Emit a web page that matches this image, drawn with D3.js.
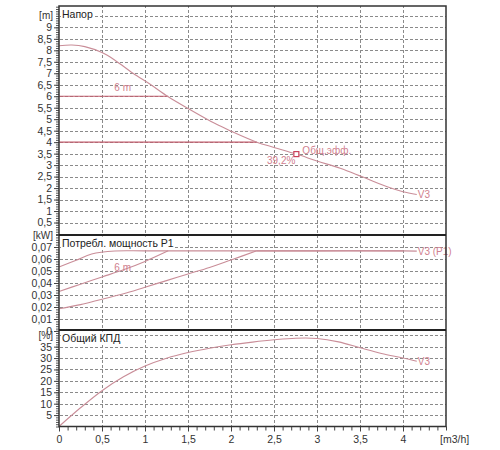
<!DOCTYPE html>
<html>
<head>
<meta charset="utf-8">
<script src="https://cdn.jsdelivr.net/npm/d3@7"></script>
<style>
  body { margin: 0; background: #fff; }
  svg { font-family: Arial, 'Liberation Sans', sans-serif; }
</style>
</head>
<body>
<svg id="chart" width="500" height="450"></svg>
<script>
// flow axis
const flowTicks = [0, 0.5, 1, 1.5, 2, 2.5, 3, 3.5, 4]

// head panel (V3 curve)
const headQ = [0, 0.15, 0.3, 0.5, 0.65, 0.86, 1.06, 1.27, 1.5, 1.81, 2.0, 2.3, 2.5, 2.76, 3.0, 3.27, 3.52, 3.85, 4.0, 4.16]
const headH = [8.2, 8.23, 8.16, 7.9, 7.57, 7.0, 6.52, 5.98, 5.47, 4.82, 4.48, 4.0, 3.77, 3.48, 3.18, 2.86, 2.5, 2.01, 1.84, 1.72]
const headTicks = [0.5, 1, 1.5, 2, 2.5, 3, 3.5, 4, 4.5, 5, 5.5, 6, 6.5, 7, 7.5, 8, 8.5, 9]
const constHead = [{ h: 6, q: 1.27, label: '6 m' }, { h: 4, q: 2.3, label: '' }]
const dutyPoint = { q: 2.76, h: 3.48, eff: '39,2%' }

// power panel
const powV3Q = [0, 0.2, 0.38, 0.65, 1.0, 2.0, 3.0, 4.0, 4.16]
const powV3 = [0.0534, 0.059, 0.0642, 0.0667, 0.0668, 0.0668, 0.0668, 0.0668, 0.0666]
const pow6Q = [0, 0.25, 0.5, 0.75, 1.0, 1.27]
const pow6 = [0.033, 0.039, 0.045, 0.051, 0.058, 0.0668]
const pow4Q = [0, 0.25, 0.5, 0.75, 1.0, 1.25, 1.5, 1.75, 2.0, 2.3]
const pow4 = [0.0185, 0.022, 0.0265, 0.031, 0.0365, 0.042, 0.0475, 0.053, 0.0592, 0.0668]
const powTicks = [0, 0.01, 0.02, 0.03, 0.04, 0.05, 0.06, 0.07]

// efficiency panel
const effQ = [0, 0.25, 0.5, 0.75, 1.0, 1.25, 1.5, 1.75, 2.0, 2.25, 2.5, 2.75, 3.0, 3.25, 3.5, 3.75, 4.0, 4.16]
const effV = [0, 8.2, 15.7, 21.8, 26.5, 29.9, 32.4, 34.3, 35.8, 37.0, 38.0, 38.7, 38.6, 37.1, 34.5, 32.0, 30.0, 28.6]
const effTicks = [5, 10, 15, 20, 25, 30, 35]

const curveColor = '#c98d98'
const lineColor = '#c25d6c'
const labelColor = '#d0808e'
const gridColor = '#8a8a8a'

function drawChart() {
  const svg = d3.select('#chart')
  const comma = f => v => d3.format(f)(v).replace('.', ',')

  const x = d3.scaleLinear().domain([0, 4.5]).range([59, 446])
  const yHead = d3.scaleLinear().domain([0, 9.93]).range([234, 6])
  const yPow = d3.scaleLinear().domain([0, 0.08]).range([331, 235])
  const yEff = d3.scaleLinear().domain([0, 42.3]).range([426.5, 330])

  const panels = [
    { y: yHead, ticks: headTicks, minor: d3.range(0, 9.95, 0.1), fmt: comma('~g'), unit: '[m]', unitAt: 9.5, title: 'Напор' },
    { y: yPow, ticks: powTicks, minor: d3.range(0, 0.0801, 0.002), fmt: comma('.2~f'), unit: '[kW]', unitAt: 0.08, title: 'Потребл. мощность P1' },
    { y: yEff, ticks: effTicks, minor: d3.range(0, 42.1, 1), fmt: comma('~g'), unit: '[%]', unitAt: 40, title: 'Общий КПД' }
  ]

  // dash patterns for the grid (3 on, 2 off)
  const defs = svg.append('defs')
  defs.append('pattern')
    .attr('id', 'dashH')
    .attr('patternUnits', 'userSpaceOnUse')
    .attr('width', 5).attr('height', 1)
    .append('rect')
    .attr('width', 3).attr('height', 1)
    .attr('fill', gridColor)
  defs.append('pattern')
    .attr('id', 'dashV')
    .attr('patternUnits', 'userSpaceOnUse')
    .attr('width', 1).attr('height', 5)
    .append('rect')
    .attr('width', 1).attr('height', 3)
    .attr('fill', gridColor)

  const grid = svg.append('g')
    .attr('id', 'grid')

  panels.forEach(p => {
    const [y0, y1] = p.y.range()
    const hv = p.ticks.concat([p.unitAt]).filter(v => v > 0)

    grid.append('g').selectAll('rect')
      .data(hv)
      .join('rect')
      .attr('x', x(0))
      .attr('y', d => Math.round(p.y(d)))
      .attr('width', x(4.5) - x(0))
      .attr('height', 1)
      .attr('fill', 'url(#dashH)')

    grid.append('g').selectAll('rect')
      .data(flowTicks.filter(v => v > 0))
      .join('rect')
      .attr('x', d => Math.round(x(d)))
      .attr('y', y1)
      .attr('width', 1)
      .attr('height', y0 - y1)
      .attr('fill', 'url(#dashV)')
  })

  const line = (xs, ys, y) => d3.line()
    .x((d, i) => x(xs[i]))
    .y(d => y(d))
    .curve(d3.curveCatmullRom.alpha(0.5))(ys)

  // head panel
  svg.selectAll('line.const')
    .data(constHead)
    .join('line')
    .attr('class', 'const')
    .attr('x1', x(0)).attr('x2', d => x(d.q))
    .attr('y1', d => yHead(d.h)).attr('y2', d => yHead(d.h))
    .attr('stroke', lineColor)
    .attr('stroke-width', 1.2)

  svg.append('path')
    .attr('d', line(headQ, headH, yHead))
    .attr('fill', 'none')
    .attr('stroke', curveColor)
    .attr('stroke-width', 1.1)

  svg.append('text')
    .attr('x', x(0.74)).attr('y', yHead(6) - 5)
    .attr('text-anchor', 'middle')
    .attr('fill', labelColor)
    .style('font-size', '10px')
    .text(constHead[0].label)

  svg.append('rect')
    .attr('x', x(dutyPoint.q) - 2.5).attr('y', yHead(dutyPoint.h) - 2.5)
    .attr('width', 5).attr('height', 5)
    .attr('fill', '#fff')
    .attr('stroke', '#c8405a')
    .attr('stroke-width', 1.2)

  svg.append('text')
    .attr('x', x(dutyPoint.q) + 6).attr('y', yHead(dutyPoint.h) - 4)
    .attr('dy', '0.35em')
    .attr('fill', labelColor)
    .style('font-size', '10px')
    .text('Общ.эфф.')

  svg.append('text')
    .attr('x', x(dutyPoint.q) - 1).attr('y', yHead(dutyPoint.h) + 6)
    .attr('dy', '0.35em')
    .attr('text-anchor', 'end')
    .attr('fill', labelColor)
    .style('font-size', '10px')
    .text(dutyPoint.eff)

  svg.append('text')
    .attr('x', x(headQ[headQ.length - 1]) + 1).attr('y', yHead(headH[headH.length - 1]))
    .attr('dy', '0.35em')
    .attr('fill', labelColor)
    .style('font-size', '10px')
    .text('V3')

  // power panel
  ;[[powV3Q, powV3], [pow6Q, pow6], [pow4Q, pow4]].forEach(([qs, ps]) => {
    svg.append('path')
      .attr('d', line(qs, ps, yPow))
      .attr('fill', 'none')
      .attr('stroke', curveColor)
      .attr('stroke-width', 1.1)
  })
  svg.append('line')
    .attr('x1', x(pow4Q[pow4Q.length - 1])).attr('x2', x(4.0))
    .attr('y1', yPow(0.0668)).attr('y2', yPow(0.0668))
    .attr('stroke', curveColor)
    .attr('stroke-width', 1.1)

  svg.append('text')
    .attr('x', x(0.74)).attr('y', yPow(0.053))
    .attr('dy', '0.35em')
    .attr('text-anchor', 'middle')
    .attr('fill', labelColor)
    .style('font-size', '10px')
    .text('6 m')

  svg.append('text')
    .attr('x', x(powV3Q[powV3Q.length - 1]) + 1).attr('y', yPow(0.0666))
    .attr('dy', '0.35em')
    .attr('fill', labelColor)
    .style('font-size', '10px')
    .text('V3 (P1)')

  // efficiency panel
  svg.append('path')
    .attr('d', line(effQ, effV, yEff))
    .attr('fill', 'none')
    .attr('stroke', curveColor)
    .attr('stroke-width', 1.1)

  svg.append('text')
    .attr('x', x(effQ[effQ.length - 1]) + 1).attr('y', yEff(effV[effV.length - 1]))
    .attr('dy', '0.35em')
    .attr('fill', labelColor)
    .style('font-size', '10px')
    .text('V3')

  // left axes, unit labels and panel titles
  panels.forEach(p => {
    const y1 = p.y.range()[1]

    svg.append('g')
      .attr('transform', `translate(${x(0)},0)`)
      .call(d3.axisLeft(p.y).tickValues(p.minor).tickSize(3).tickFormat(''))
      .call(a => a.select('.domain').remove())
      .call(a => a.selectAll('line').attr('stroke', '#555'))

    svg.append('g')
      .attr('transform', `translate(${x(0)},0)`)
      .call(d3.axisLeft(p.y).tickValues(p.ticks).tickSize(5).tickPadding(2).tickFormat(p.fmt))
      .call(a => a.select('.domain').remove())
      .call(a => a.selectAll('line').attr('stroke', '#444'))
      .call(a => a.selectAll('text').attr('fill', '#333').style('font-size', '10.5px'))

    svg.append('text')
      .attr('x', x(0) - 6)
      .attr('y', p.y(p.unitAt))
      .attr('dy', '0.35em')
      .attr('text-anchor', 'end')
      .attr('fill', '#333')
      .style('font-size', '10px')
      .text(p.unit)

    const t = svg.append('text')
      .attr('x', x(0) + 3)
      .attr('y', y1 + 8)
      .attr('dy', '0.35em')
      .attr('fill', '#222')
      .style('font-size', '10.5px')
      .text(p.title)
    const bb = t.node().getBBox()
    svg.insert('rect', () => t.node())
      .attr('x', bb.x - 1).attr('y', bb.y)
      .attr('width', bb.width + 2).attr('height', bb.height)
      .attr('fill', '#fff')
  })

  // x axis
  svg.append('g')
    .attr('transform', `translate(0,${yEff(0)})`)
    .call(d3.axisBottom(x).tickValues(d3.range(0, 4.51, 0.1)).tickSize(4).tickFormat(''))
    .call(a => a.select('.domain').remove())
    .call(a => a.selectAll('line').attr('stroke', '#444'))

  svg.append('g')
    .attr('transform', `translate(0,${yEff(0)})`)
    .call(d3.axisBottom(x).tickValues(flowTicks).tickSize(5).tickPadding(4).tickFormat(comma('~g')))
    .call(a => a.select('.domain').remove())
    .call(a => a.selectAll('line').attr('stroke', '#444'))
    .call(a => a.selectAll('text').attr('fill', '#333').style('font-size', '10.5px'))

  svg.append('text')
    .attr('x', x(4.5) - 6).attr('y', yEff(0) + 13)
    .attr('dy', '0.35em')
    .attr('fill', '#333')
    .style('font-size', '10.5px')
    .text('[m3/h]')

  // frame and panel separators
  svg.append('rect')
    .attr('x', x(0)).attr('y', yHead.range()[1])
    .attr('width', x(4.5) - x(0)).attr('height', yEff(0) - yHead.range()[1])
    .attr('fill', 'none')
    .attr('stroke', '#333')
    .attr('stroke-width', 1.5)

  svg.selectAll('line.sep')
    .data([yPow.range()[1], yEff.range()[1]])
    .join('line')
    .attr('class', 'sep')
    .attr('x1', x(0)).attr('x2', x(4.5))
    .attr('y1', d => d).attr('y2', d => d)
    .attr('stroke', '#222')
    .attr('stroke-width', 2)
}

document.addEventListener('DOMContentLoaded', drawChart, false)
</script>
</body>
</html>
